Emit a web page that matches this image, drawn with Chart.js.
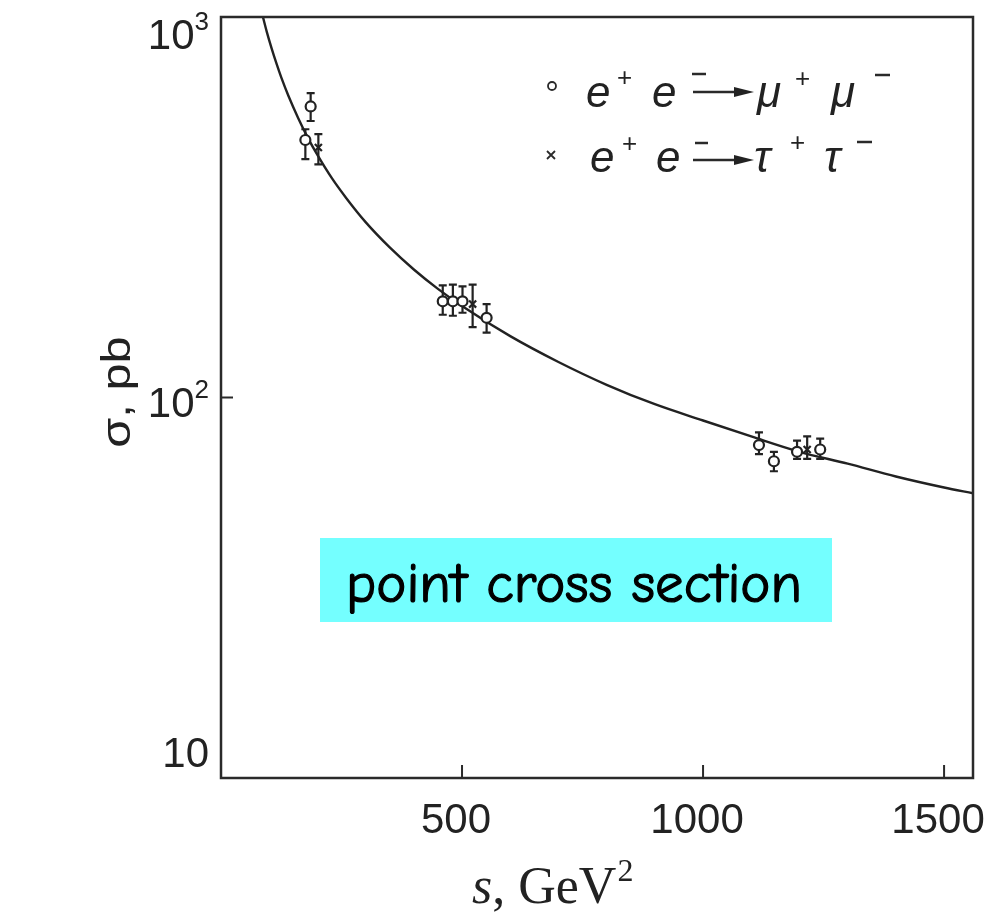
<!DOCTYPE html>
<html>
<head>
<meta charset="utf-8">
<script src="https://cdn.jsdelivr.net/npm/chart.js@4/dist/chart.umd.min.js"></script>
<style>
  html, body { margin: 0; padding: 0; background: #fff; }
  #wrap { position: relative; width: 1000px; height: 913px; }
</style>
</head>
<body>
<div id="wrap"><canvas id="xsec"></canvas></div>
<script>
// e+e- -> mu+mu- : s in GeV^2, sigma in pb, error bar ends
var muS     = [186, 175, 460, 481, 501, 551, 1116, 1147, 1195, 1243];
var muSigma = [582, 475, 179, 179, 179, 162, 75, 68, 72, 73];
var muLow   = [533, 423, 165, 164, 167, 148, 71, 64, 69, 69];
var muHigh  = [631, 507, 197, 198, 196, 176, 81, 72, 77, 78];

// e+e- -> tau+tau-
var tauS     = [202, 522, 1216];
var tauSigma = [454, 176, 73];
var tauLow   = [410, 153, 69];
var tauHigh  = [492, 198, 79];

// QED point cross section curve
var curveS     = [87, 95, 105, 115, 125, 140, 160, 180, 200, 230, 260, 300, 350, 400, 450, 500, 600, 700, 800, 900, 1000, 1100, 1200, 1300, 1400, 1500, 1560];
var curveSigma = [1000, 914, 827, 755, 694, 620, 543, 482, 434, 377, 334, 289, 248, 217, 193, 174, 145, 124, 108, 96, 87, 79, 72, 67, 62, 58, 56];

// axis ticks
var xTicks = [500, 1000, 1500];
var yTicks = [10, 100, 1000];
var yTickExp = ['', '2', '3'];

var ink = '#222';

function pts(xs, ys) {
  return xs.map(function (v, i) { return { x: v, y: ys[i] }; });
}

// vertical error bars with small caps, drawn under the markers
var errorBars = {
  id: 'errorBars',
  beforeDatasetsDraw: function (chart) {
    var ctx = chart.ctx, sx = chart.scales.x, sy = chart.scales.y;
    ctx.save();
    ctx.strokeStyle = ink;
    ctx.lineWidth = 2.2;
    [[muS, muLow, muHigh], [tauS, tauLow, tauHigh]].forEach(function (set) {
      set[0].forEach(function (s, i) {
        var px = sx.getPixelForValue(s);
        var lo = sy.getPixelForValue(set[1][i]);
        var hi = sy.getPixelForValue(set[2][i]);
        ctx.beginPath();
        ctx.moveTo(px, lo); ctx.lineTo(px, hi);
        ctx.moveTo(px - 4, lo); ctx.lineTo(px + 4, lo);
        ctx.moveTo(px - 4, hi); ctx.lineTo(px + 4, hi);
        ctx.stroke();
      });
    });
    ctx.restore();
  }
};

function arrow(ctx, x1, x2, y) {
  ctx.beginPath();
  ctx.moveTo(x1, y); ctx.lineTo(x2 - 14, y);
  ctx.stroke();
  ctx.beginPath();
  ctx.moveTo(x2, y);
  ctx.lineTo(x2 - 20, y - 5);
  ctx.lineTo(x2 - 20, y + 5);
  ctx.closePath();
  ctx.fill();
}

function dash(ctx, x1, x2, y) {
  ctx.beginPath();
  ctx.moveTo(x1, y); ctx.lineTo(x2, y);
  ctx.stroke();
}

// box, inward ticks, tick labels, axis titles, legend and caption
var decor = {
  id: 'decor',
  afterDraw: function (chart) {
    var ctx = chart.ctx, a = chart.chartArea, sx = chart.scales.x, sy = chart.scales.y;
    ctx.save();
    ctx.strokeStyle = '#2a2a2a';
    ctx.fillStyle = ink;
    ctx.lineWidth = 2.5;
    ctx.strokeRect(a.left, a.top, a.right - a.left, a.bottom - a.top);

    ctx.lineWidth = 2;
    ctx.beginPath();
    xTicks.forEach(function (v) {
      var px = sx.getPixelForValue(v);
      ctx.moveTo(px, a.bottom); ctx.lineTo(px, a.bottom - 13);
    });
    yTicks.forEach(function (v) {
      var py = sy.getPixelForValue(v);
      ctx.moveTo(a.left, py); ctx.lineTo(a.left + 12, py);
    });
    ctx.stroke();

    // x tick labels
    ctx.font = '42px "Liberation Sans", Arial, sans-serif';
    ctx.textAlign = 'center';
    ctx.textBaseline = 'alphabetic';
    xTicks.forEach(function (v) {
      ctx.fillText(String(v), sx.getPixelForValue(v) - 6, a.bottom + 55);
    });

    // y tick labels, end labels pulled inside the axis span
    var shift = [-26, 4, 17];
    yTicks.forEach(function (v, i) {
      var cy = sy.getPixelForValue(v) + shift[i];
      var right = a.left - 12;
      var w = 0;
      if (yTickExp[i]) {
        ctx.font = '26px "Liberation Sans", Arial, sans-serif';
        w = ctx.measureText(yTickExp[i]).width;
        ctx.textAlign = 'left';
        ctx.fillText(yTickExp[i], right - w, cy - 4);
      }
      ctx.font = '42px "Liberation Sans", Arial, sans-serif';
      ctx.textAlign = 'right';
      ctx.fillText('10', right - w, cy + 15);
    });

    // y title
    ctx.save();
    ctx.translate(130, 392);
    ctx.rotate(-Math.PI / 2);
    ctx.scale(1.22, 1);
    ctx.font = '40px "Liberation Sans", Arial, sans-serif';
    ctx.textAlign = 'center';
    ctx.fillText('\u03c3, pb', 0, 0);
    ctx.restore();

    // x title
    ctx.textAlign = 'left';
    var tx = 472, ty = 903;
    ctx.font = 'italic 52px "Liberation Serif", "Times New Roman", serif';
    ctx.fillText('s', tx, ty);
    tx += ctx.measureText('s').width;
    ctx.font = '52px "Liberation Serif", "Times New Roman", serif';
    ctx.fillText(', GeV', tx, ty);
    tx += ctx.measureText(', GeV').width;
    ctx.font = '32px "Liberation Serif", "Times New Roman", serif';
    ctx.fillText('2', tx + 1, ty - 22);

    // legend
    ctx.lineWidth = 1.8;
    ctx.beginPath();
    ctx.arc(552, 86, 4, 0, Math.PI * 2);
    ctx.stroke();
    ctx.beginPath();
    ctx.moveTo(547, 151); ctx.lineTo(555, 159);
    ctx.moveTo(555, 151); ctx.lineTo(547, 159);
    ctx.stroke();

    var big = 'italic 44px "Liberation Sans", Arial, sans-serif';
    var sup = '26px "Liberation Sans", Arial, sans-serif';
    ctx.lineWidth = 2.5;

    ctx.font = big;
    ctx.fillText('e', 586, 107);
    ctx.fillText('e', 652, 107);
    ctx.fillText('\u03bc', 757, 107);
    ctx.fillText('\u03bc', 831, 107);
    ctx.font = sup;
    ctx.fillText('+', 617, 86);
    ctx.fillText('+', 795, 87);
    dash(ctx, 692, 706, 74);
    dash(ctx, 875, 890, 75);
    arrow(ctx, 693, 754, 92);

    ctx.font = big;
    ctx.fillText('e', 590, 172);
    ctx.fillText('e', 656, 172);
    ctx.fillText('\u03c4', 754, 172);
    ctx.fillText('\u03c4', 824, 172);
    ctx.font = sup;
    ctx.fillText('+', 622, 152);
    ctx.fillText('+', 790, 151);
    dash(ctx, 695, 708, 143);
    dash(ctx, 857, 872, 142);
    arrow(ctx, 693, 754, 160);

    // caption box, text sized to span the box
    ctx.fillStyle = '#74ffff';
    ctx.fillRect(320, 538, 512, 84);
    var label = 'point cross section';
    var fam = '"Comic Sans MS", "Comic Neue", "Open Sans", sans-serif';
    ctx.font = '50px ' + fam;
    var size = Math.floor(50 * 463 / ctx.measureText(label).width);
    ctx.font = size + 'px ' + fam;
    ctx.fillStyle = '#000';
    ctx.strokeStyle = '#000';
    ctx.lineWidth = 1.2;
    ctx.textAlign = 'center';
    ctx.fillText(label, 574, 602);
    ctx.strokeText(label, 574, 602);
    ctx.restore();
  }
};

var chart = new Chart(document.getElementById('xsec').getContext('2d'), {
  type: 'scatter',
  data: {
    datasets: [
      {
        label: 'mu',
        data: pts(muS, muSigma),
        pointStyle: 'circle',
        pointRadius: 5,
        borderWidth: 2.2,
        borderColor: ink,
        backgroundColor: '#fff'
      },
      {
        label: 'tau',
        data: pts(tauS, tauSigma),
        pointStyle: 'crossRot',
        pointRadius: 5,
        borderWidth: 2.2,
        borderColor: ink,
        backgroundColor: ink
      },
      {
        label: 'point',
        type: 'line',
        data: pts(curveS, curveSigma),
        showLine: true,
        pointRadius: 0,
        borderWidth: 2.4,
        borderColor: ink,
        fill: false,
        cubicInterpolationMode: 'monotone'
      }
    ]
  },
  options: {
    responsive: true,
    maintainAspectRatio: false,
    animation: false,
    layout: { padding: { left: 221, top: 17, right: 27, bottom: 135 } },
    plugins: { legend: { display: false }, tooltip: { enabled: false } },
    scales: {
      x: { type: 'linear', min: 0, max: 1560, display: false },
      y: { type: 'logarithmic', min: 10, max: 1000, display: false }
    }
  },
  plugins: [errorBars, decor]
});
</script>
</body>
</html>
